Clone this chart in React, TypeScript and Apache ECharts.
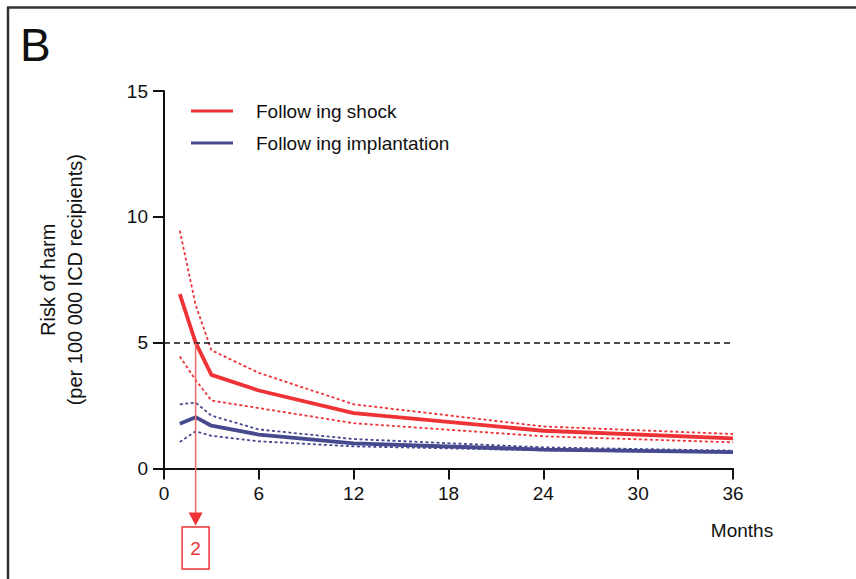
import React, { useEffect, useRef } from "react";
import * as echarts from "echarts";

// Months after event
const months = [1, 2, 3, 6, 12, 24, 36];
// Risk of harm per 100 000 ICD recipients
const shockMain = [6.93, 5.0, 3.72, 3.1, 2.2, 1.5, 1.2];
const shockUpper = [9.45, 6.5, 4.7, 3.8, 2.55, 1.67, 1.37];
const shockLower = [4.45, 3.52, 2.7, 2.4, 1.8, 1.28, 1.04];
const implMain = [1.78, 2.04, 1.7, 1.35, 1.0, 0.75, 0.65];
const implUpper = [2.55, 2.62, 2.1, 1.55, 1.17, 0.84, 0.71];
const implLower = [1.05, 1.48, 1.3, 1.08, 0.88, 0.72, 0.63];
const thresholdRisk = 5;
const markerMonth = 2;
const xTicks = [0, 6, 12, 18, 24, 30, 36];
const yTicks = [0, 5, 10, 15];

const RED = "#EE3236";
const BLUE = "#47498F";
const FONT = "'Liberation Sans', Arial, Helvetica, sans-serif";

export default function App() {
  const ref = useRef<HTMLDivElement>(null);
  useEffect(() => {
    const chart = echarts.init(ref.current!, null, { renderer: "svg" });
    const pair = (ys: number[]) => months.map((m, i) => [m, ys[i]]);
    const ciStyle = (c: string) => ({ color: c, width: 1.8, type: [3, 2.5] as any });
    chart.setOption({
      animation: false,
      backgroundColor: "#fff",
      textStyle: { fontFamily: FONT },
      grid: { left: 164, right: 123, top: 91, bottom: 110.5, containLabel: false },
      legend: {
        left: 191,
        top: 100,
        orient: "vertical",
        itemWidth: 42,
        itemHeight: 3,
        itemGap: 10,
        icon: "rect",
        padding: 0,
        data: ["Follow ing shock", "Follow ing implantation"],
        textStyle: { fontSize: 19, lineHeight: 22, color: "#111", padding: [0, 0, 0, 18], fontFamily: FONT },
      },
      xAxis: {
        type: "value",
        min: xTicks[0],
        max: xTicks[xTicks.length - 1],
        interval: 6,
        splitLine: { show: false },
        axisLine: { onZero: false, lineStyle: { color: "#111", width: 2 } },
        axisTick: { length: 11, lineStyle: { color: "#111", width: 2 } },
        axisLabel: { fontSize: 19, color: "#111", margin: 15, fontFamily: FONT },
      },
      yAxis: {
        type: "value",
        min: yTicks[0],
        max: yTicks[yTicks.length - 1],
        interval: 5,
        splitLine: { show: false },
        axisLine: { show: true, lineStyle: { color: "#111", width: 2 } },
        axisTick: { show: true, length: 11, lineStyle: { color: "#111", width: 2 } },
        axisLabel: { fontSize: 19, color: "#111", margin: 16, fontFamily: FONT },
        name: "Risk of harm\n(per 100 000 ICD recipients)",
        nameLocation: "middle",
        nameRotate: 90,
        nameGap: 76,
        nameTextStyle: { fontSize: 20, lineHeight: 27, color: "#111", fontFamily: FONT, align: "center" },
      },
      series: [
        {
          name: "shock upper", type: "line", data: pair(shockUpper), showSymbol: false,
          lineStyle: ciStyle(RED), itemStyle: { color: RED }, z: 2,
          markLine: {
            silent: true, symbol: "none", label: { show: false },
            lineStyle: { color: "#111", width: 1.5, type: [6, 4] as any },
            data: [{ yAxis: thresholdRisk }],
          },
        },
        { name: "shock lower", type: "line", data: pair(shockLower), showSymbol: false, lineStyle: ciStyle(RED), itemStyle: { color: RED }, z: 2 },
        { name: "impl upper", type: "line", data: pair(implUpper), showSymbol: false, lineStyle: ciStyle(BLUE), itemStyle: { color: BLUE }, z: 2 },
        { name: "impl lower", type: "line", data: pair(implLower), showSymbol: false, lineStyle: ciStyle(BLUE), itemStyle: { color: BLUE }, z: 2 },
        { name: "Follow ing shock", type: "line", data: pair(shockMain), showSymbol: false, lineStyle: { color: RED, width: 3.8 }, itemStyle: { color: RED }, z: 4 },
        { name: "Follow ing implantation", type: "line", data: pair(implMain), showSymbol: false, lineStyle: { color: BLUE, width: 3.8 }, itemStyle: { color: BLUE }, z: 4 },
      ],
    });
    const p5 = chart.convertToPixel({ gridIndex: 0 }, [markerMonth, thresholdRisk]) as number[];
    const x = p5[0];
    chart.setOption({
      graphic: [
        { type: "line", shape: { x1: 7, y1: 7.5, x2: 856, y2: 7.5 }, style: { stroke: "#333", lineWidth: 2.5 } },
        { type: "line", shape: { x1: 8, y1: 7, x2: 8, y2: 579 }, style: { stroke: "#333", lineWidth: 2.5 } },
        { type: "text", left: 20, top: 22, style: { text: "B", fontSize: 46, fill: "#111", fontFamily: FONT } },
        { type: "text", x: 742, y: 530, style: { text: "Months", fontSize: 19, fill: "#111", fontFamily: FONT, align: "center", verticalAlign: "middle" } },
        { type: "line", z: 10, shape: { x1: x, y1: p5[1], x2: x, y2: 514 }, style: { stroke: "#F06A6A", lineWidth: 1.5 } },
        { type: "polygon", z: 10, shape: { points: [[x - 7, 512.5], [x + 7, 512.5], [x, 525.5]] }, style: { fill: RED } },
        { type: "rect", z: 10, shape: { x: x - 13.5, y: 527, width: 27, height: 42 }, style: { fill: "#fff", stroke: RED, lineWidth: 1.5 } },
        { type: "text", z: 11, x: x, y: 548, style: { text: String(markerMonth), fontSize: 19, fill: RED, fontFamily: FONT, align: "center", verticalAlign: "middle" } },
      ],
    });
    return () => chart.dispose();
  }, []);
  return <div ref={ref} style={{ position: "absolute", left: 0, top: 0, width: 856, height: 579 }} />;
}
